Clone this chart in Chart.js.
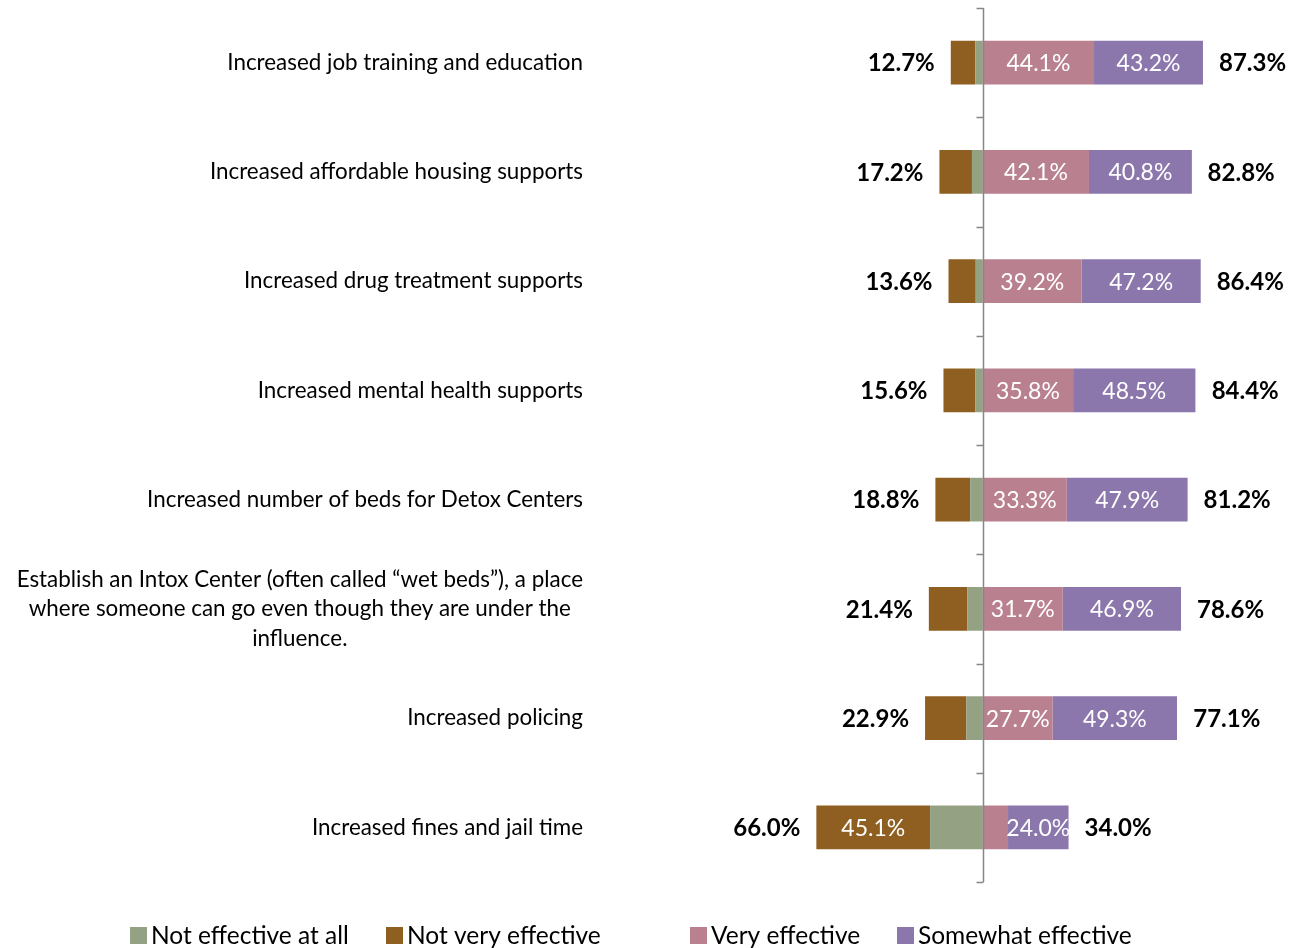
<!DOCTYPE html>
<html>
<head>
<meta charset="utf-8">
<script src="https://cdn.jsdelivr.net/npm/chart.js@4.4.0/dist/chart.umd.min.js"></script>
<style>
  body { margin: 0; background: #fff; }
  #wrap { width: 1300px; height: 948px; }
</style>
</head>
<body>
<div id="wrap"><canvas id="grafico" width="1300" height="948"></canvas></div>
<script>
// DATOS
const categorias = [
  'Increased job training and education',
  'Increased affordable housing supports',
  'Increased drug treatment supports',
  'Increased mental health supports',
  'Increased number of beds for Detox Centers',
  ['Establish an Intox Center (often called \u201cwet beds\u201d), a place', 'where someone can go even though they are under the', 'influence.'],
  'Increased policing',
  'Increased fines and jail time'
];
const nadaEfectivo = [3.0, 4.3, 2.8, 2.9, 5.0, 6.2, 6.5, 20.9];
const pocoEfectivo = [9.7, 12.9, 10.8, 12.7, 13.8, 15.2, 16.4, 45.1];
const muyEfectivo = [44.1, 42.1, 39.2, 35.8, 33.3, 31.7, 27.7, 10.0];
const algoEfectivo = [43.2, 40.8, 47.2, 48.5, 47.9, 46.9, 49.3, 24.0];
const totalNegativo = [12.7, 17.2, 13.6, 15.6, 18.8, 21.4, 22.9, 66.0];
const totalPositivo = [87.3, 82.8, 86.4, 84.4, 81.2, 78.6, 77.1, 34.0];

const fuente = 'Lato, "Open Sans", sans-serif';

const datos = {
  labels: categorias,
  datasets: [
    { label: 'Not effective at all', data: nadaEfectivo.map(v => -v), backgroundColor: '#95A183', conEtiqueta: false },
    { label: 'Not very effective', data: pocoEfectivo.map(v => -v), backgroundColor: '#8F5F21', conEtiqueta: true },
    { label: 'Very effective', data: muyEfectivo, backgroundColor: '#B98090', conEtiqueta: true },
    { label: 'Somewhat effective', data: algoEfectivo, backgroundColor: '#8B77AB', conEtiqueta: true }
  ]
};

// posiciones de la leyenda (como en el original)
const leyendaX = [130, 386, 690, 897];

// eje central, categorias, etiquetas y leyenda
const pluginEtiquetas = {
  id: 'etiquetas',
  afterDatasetsDraw(chart) {
    const ctx = chart.ctx;
    const x = chart.scales.x;
    const y = chart.scales.y;
    const area = chart.chartArea;
    const x0 = Math.round(x.getPixelForValue(0)) + 0.5;
    const paso = (y.getPixelForValue(1) - y.getPixelForValue(0));

    ctx.save();
    // linea del eje
    ctx.strokeStyle = '#868686';
    ctx.lineWidth = 1.5;
    ctx.beginPath();
    ctx.moveTo(x0, area.top);
    ctx.lineTo(x0, area.bottom);
    for (let i = 0; i <= categorias.length; i++) {
      const ty = Math.round(y.getPixelForValue(i) - paso / 2) + 0.5;
      ctx.moveTo(x0 - 7, ty);
      ctx.lineTo(x0, ty);
    }
    ctx.stroke();

    // etiquetas dentro de las barras
    ctx.font = '23px ' + fuente;
    ctx.fillStyle = '#ffffff';
    ctx.textAlign = 'center';
    ctx.textBaseline = 'middle';
    chart.data.datasets.forEach((ds, d) => {
      if (!ds.conEtiqueta) return;
      const meta = chart.getDatasetMeta(d);
      meta.data.forEach((bar, i) => {
        const v = Math.abs(ds.data[i]);
        if (v < 20) return;
        const cx = (bar.x + bar.base) / 2;
        ctx.fillText(v.toFixed(1) + '%', cx, bar.y + 1);
      });
    });

    // totales
    ctx.font = 'bold 24px ' + fuente;
    ctx.fillStyle = '#000000';
    categorias.forEach((c, i) => {
      const cy = y.getPixelForValue(i) + 1;
      ctx.textAlign = 'right';
      ctx.fillText(totalNegativo[i].toFixed(1) + '%', x.getPixelForValue(-totalNegativo[i]) - 16, cy);
      ctx.textAlign = 'left';
      ctx.fillText(totalPositivo[i].toFixed(1) + '%', x.getPixelForValue(totalPositivo[i]) + 16, cy);
    });

    // categorias
    ctx.font = '22.4px ' + fuente;
    ctx.fillStyle = '#000000';
    const derecha = 583;
    categorias.forEach((c, i) => {
      const cy = y.getPixelForValue(i);
      if (Array.isArray(c)) {
        const ancho = Math.max(...c.map(t => ctx.measureText(t).width));
        const centro = derecha - ancho / 2;
        ctx.textAlign = 'center';
        c.forEach((t, k) => {
          ctx.fillText(t, centro, cy + (k - (c.length - 1) / 2) * 29.5);
        });
      } else {
        ctx.textAlign = 'right';
        ctx.fillText(c, derecha, cy);
      }
    });

    // leyenda
    ctx.font = '24.5px ' + fuente;
    ctx.textAlign = 'left';
    chart.data.datasets.forEach((ds, d) => {
      const lx = leyendaX[d];
      ctx.fillStyle = ds.backgroundColor;
      ctx.fillRect(lx, 927, 17, 17);
      ctx.fillStyle = '#000000';
      ctx.fillText(ds.label, lx + 21, 936);
    });
    ctx.restore();
  }
};

const ctx = document.getElementById('grafico').getContext('2d');
const miGrafico = new Chart(ctx, {
  type: 'bar',
  data: datos,
  options: {
    indexAxis: 'y',
    responsive: false,
    animation: false,
    layout: { padding: { left: 602, right: 65, top: 8, bottom: 66 } },
    datasets: { bar: { categoryPercentage: 1, barPercentage: 0.4 } },
    scales: {
      x: { stacked: true, min: -151, max: 100, display: false },
      y: { stacked: true, display: false }
    },
    plugins: {
      legend: { display: false },
      tooltip: { enabled: false }
    }
  },
  plugins: [pluginEtiquetas]
});
</script>
</body>
</html>
